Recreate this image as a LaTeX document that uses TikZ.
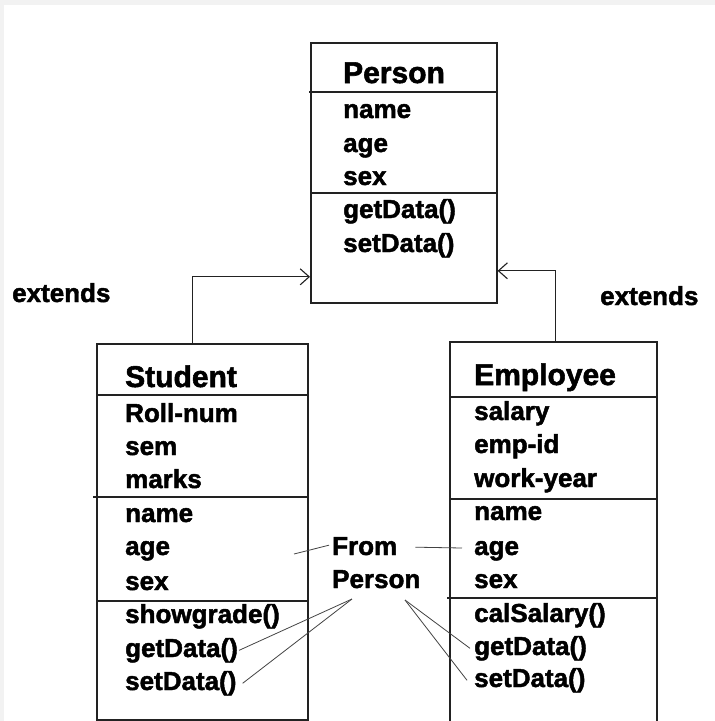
\documentclass[tikz,border=0pt]{standalone}
\usepackage{fontspec}
\setmainfont{Liberation Sans}[BoldFeatures={FakeBold=1.8}]
\usetikzlibrary{arrows.meta}
\definecolor{ink}{HTML}{222222}
\definecolor{frame}{HTML}{F2F2F2}
\begin{document}
\begin{tikzpicture}[x=1pt,y=-1pt,
  classbox/.style={draw=ink,line width=1.6pt,rectangle,anchor=north west,inner sep=0pt},
  sepline/.style={draw=ink,line width=1.6pt},
  title/.style={anchor=base west,inner sep=0pt,font=\fontsize{30}{32}\selectfont\bfseries},
  member/.style={anchor=base west,inner sep=0pt,font=\fontsize{26}{30}\selectfont\bfseries},
  ext/.style={draw=ink,line width=1.1pt,-{Straight Barb[length=9pt,width=16pt,line width=1.1pt]}},
  lead/.style={draw=ink!85,line width=0.8pt}]
\clip (0,0) rectangle (715,721);
\useasboundingbox (0,0) rectangle (715,721);
% page frame
\fill[frame] (0,0) rectangle (715,721);
\fill[white] (4,5) rectangle (715,721);

% class boxes
\node[classbox,minimum width=186pt,minimum height=260pt] (person) at (310,42) {};
\node[classbox,minimum width=211pt,minimum height=376pt] (student) at (96,343) {};
\node[classbox,minimum width=207pt,minimum height=420pt] (employee) at (449,341) {};

% compartment separators
\draw[sepline] (309,92) -- (496,92);
\draw[sepline] (310,193) -- (496,193);
\draw[sepline] (96,395) -- (307,395);
\draw[sepline] (93,497) -- (309,497);
\draw[sepline] (96,601) -- (309,601);
\draw[sepline] (449,397) -- (656,397);
\draw[sepline] (449,499) -- (656,499);
\draw[sepline] (447,598) -- (656,598);

% Person
\node[title]  (p-title) at (343,83)  {Person};
\node[member] (p-name)  at (343,118) {name};
\node[member] (p-age)   at (343,152) {age};
\node[member] (p-sex)   at (343,185) {sex};
\node[member] (p-get)   at (343,218) {getData()};
\node[member] (p-set)   at (343,252) {setData()};

% Student
\node[title]  (s-title) at (125,387) {Student};
\node[member] (s-roll)  at (125,422) {Roll-num};
\node[member] (s-sem)   at (125,455) {sem};
\node[member] (s-marks) at (125,488) {marks};
\node[member] (s-name)  at (125,522) {name};
\node[member] (s-age)   at (125,555) {age};
\node[member] (s-sex)   at (125,590) {sex};
\node[member] (s-show)  at (125,623) {showgrade()};
\node[member] (s-get)   at (125,657) {getData()};
\node[member] (s-set)   at (125,690) {setData()};

% Employee
\node[title]  (e-title) at (474,385) {Employee};
\node[member] (e-sal)   at (474,420) {salary};
\node[member] (e-id)    at (474,453) {emp-id};
\node[member] (e-work)  at (474,487) {work-year};
\node[member] (e-name)  at (474,520) {name};
\node[member] (e-age)   at (474,555) {age};
\node[member] (e-sex)   at (474,588) {sex};
\node[member] (e-cal)   at (474,622) {calSalary()};
\node[member] (e-get)   at (474,655) {getData()};
\node[member] (e-set)   at (474,687) {setData()};

% labels
\node[member] (ext-l) at (12,302)  {extends};
\node[member] (ext-r) at (600,305) {extends};
\node[member] (from)     at (332,555) {From};
\node[member] (from-per) at (332,588) {Person};

% inheritance connectors
\draw[ext] ([xshift=-9.5pt]student.north) |- ([yshift=-104pt]person.west);
\draw[ext] ([xshift=2.5pt]employee.north) |- ([yshift=-98pt]person.east);

% inherited-member leaders
\coordinate (lead-l) at (294,554);
\coordinate (lead-r) at (462,548);
\coordinate (per-l) at (352,599);
\coordinate (per-r) at (405,600);
\draw[lead] (lead-l) -- ([xshift=-3pt,yshift=1pt]from.west);
\draw[lead] ([xshift=18pt,yshift=-1pt]from.east) -- (lead-r);
\draw[lead] (per-l) -- ([xshift=1pt]s-get.east);
\draw[lead] (per-l) -- ([xshift=6pt]s-set.east);
\draw[lead] (per-r) -- ([xshift=-4pt]e-get.west);
\draw[lead] (per-r) -- ([xshift=-7pt]e-set.west);
\end{tikzpicture}
\end{document}
